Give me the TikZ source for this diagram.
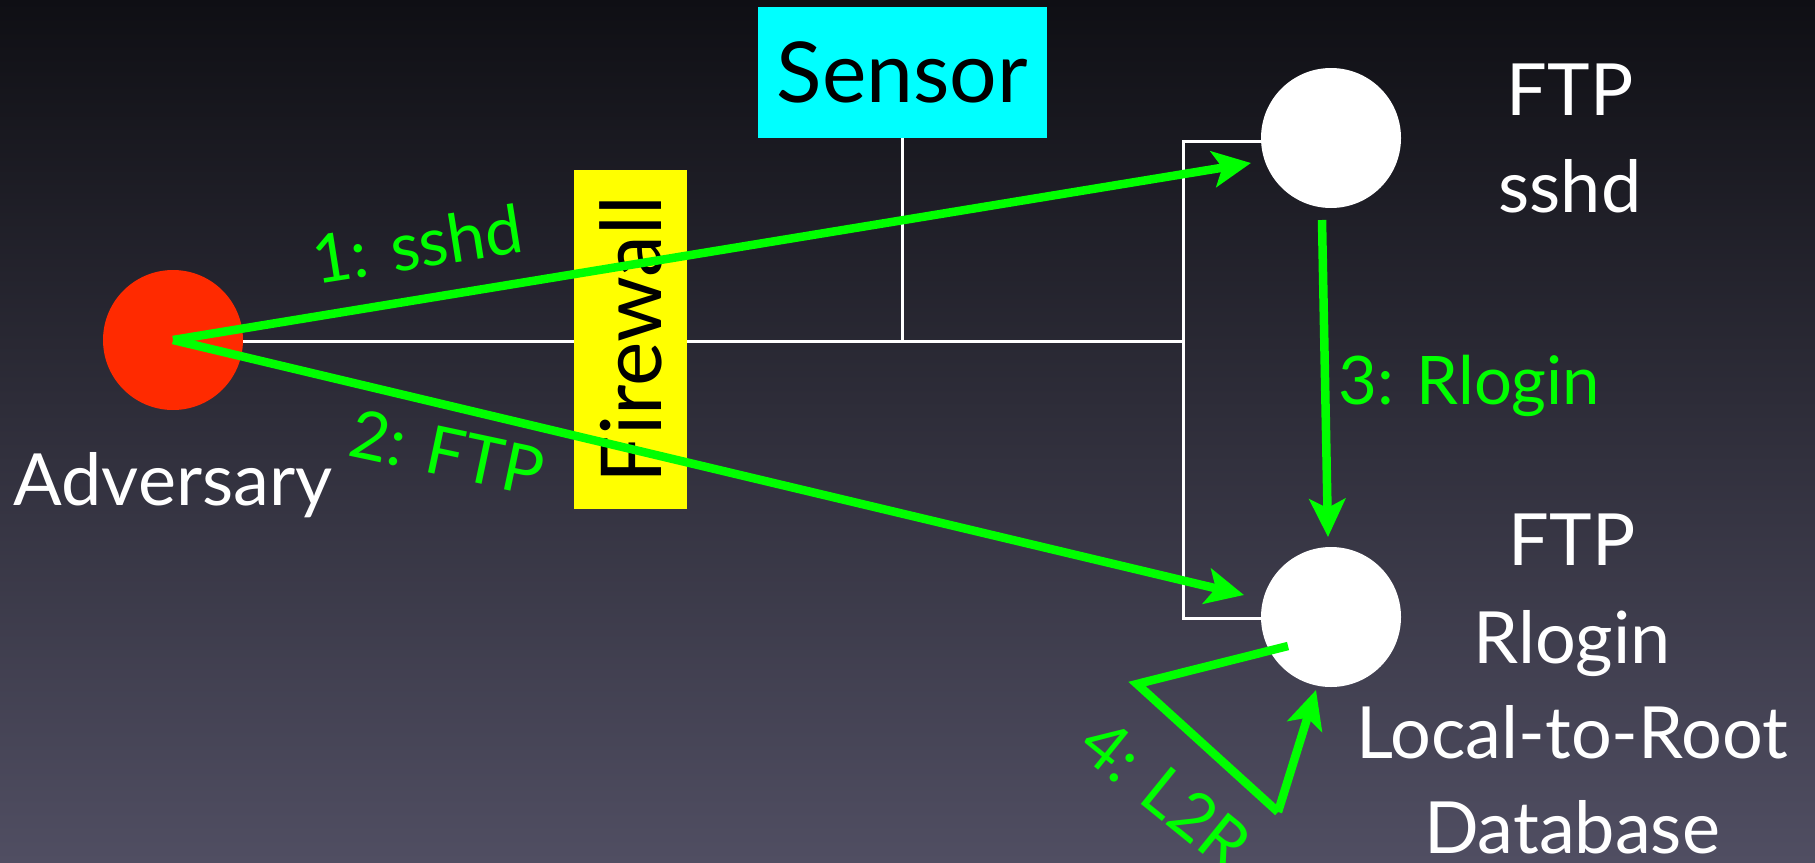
\documentclass[tikz,border=0pt]{standalone}
\usepackage{fontspec}
\setmainfont{Lato}
\usetikzlibrary{arrows.meta,calc}
\definecolor{bgtop}{RGB}{15,15,20}
\definecolor{bgbot}{RGB}{80,78,98}
\definecolor{flowgreen}{RGB}{0,255,0}
\definecolor{advred}{RGB}{255,42,0}
\definecolor{sensorcyan}{RGB}{0,255,255}
\definecolor{fwyellow}{RGB}{255,255,0}
\newcommand\diagfont{\fontsize{67}{80}\selectfont}
\newcommand\capfont{\fontsize{72}{86}\selectfont}
\newcommand\boxfont{\fontsize{84}{100}\selectfont}

\begin{document}
\begin{tikzpicture}[x=1pt,y=-1pt,
  host/.style={circle,minimum size=140pt,inner sep=0pt,fill=white},
  wire/.style={draw=white,line width=3pt},
  flowseg/.style={draw=flowgreen,line width=8.5pt},
  flow/.style={flowseg,-{Stealth[length=38pt,width=36pt,inset=9pt]}},
  txt/.style={font=\capfont,text=white,inner sep=0pt,anchor=base},
  gtxt/.style={font=\diagfont,text=flowgreen,inner sep=0pt,anchor=base},
]
% backdrop
\useasboundingbox (0,0) rectangle (1815,862);
\shade[top color=bgtop,bottom color=bgbot] (0,0) rectangle (1815,862);

% sensor box and host positions
\node[fill=sensorcyan,minimum width=289pt,minimum height=131pt,inner sep=0pt,font=\boxfont] (sensor) at (902.5,72.5) {Sensor};
\coordinate (busR) at (1183,341);
\coordinate (advc) at (173,340);

% network wiring
\draw[wire] (advc) -- (advc |- busR) -- (busR);
\draw[wire] (sensor.south) -- (sensor.south |- busR);
\draw[wire] (1331,141) -- (busR |- 1331,141) -- (busR |- 1331,618) -- (1331,618);

% hosts above the wiring
\node[host,fill=advred] (adv) at (advc) {};
\node[host] (srvA) at (1331,138) {};
\node[host] (srvB) at (1331,617) {};
\node[fill=fwyellow,rotate=90,minimum width=339pt,minimum height=113pt,inner sep=0pt,font=\boxfont] (fw) at (630.5,339.5) {Firewall};

% attack steps
\coordinate (t1) at (1251,163);
\coordinate (t2) at (1244,595);
\coordinate (s3) at (1322,220);
\coordinate (t3) at (1328,537);
\coordinate (s4) at (1288,646);
\coordinate (c4a) at (1137,684);
\coordinate (c4b) at (1278,812);
\coordinate (t4) at (1316,690);

\draw[flow] (adv.center) -- (t1);
\draw[flow] (adv.center) -- (t2);
\draw[flow] (s3) -- (t3);
\draw[flowseg,line join=miter] (s4) -- (c4a) -- (c4b);
\draw[flow] (c4b) -- (t4);

% step labels
\node[gtxt,rotate=9] (l1) at (421,268) {1: sshd};
\node[gtxt,rotate=-12] (l2) at (442,476) {2: FTP};
\node[gtxt,anchor=base west] (l3) at (1338,404) {3: Rlogin};
\node[gtxt,rotate=-39] (l4) at (1151,812) {4: L2R};

% host captions
\node[txt] (advcap) at (173,505) {Adversary};
\node[txt] (a1) at (1570,115) {FTP};
\node[txt] (a2) at (1570,212) {sshd};
\node[txt] (b1) at (1572,565) {FTP};
\node[txt] (b2) at (1572,663) {Rlogin};
\node[txt] (b3) at (1572,758) {Local-to-Root};
\node[txt] (b4) at (1572,853) {Database};
\end{tikzpicture}
\end{document}
